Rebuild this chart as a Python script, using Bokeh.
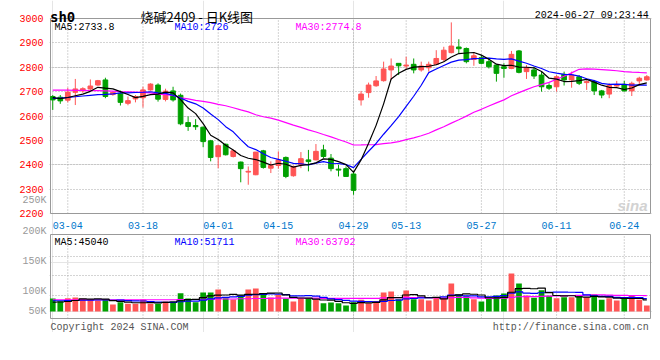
from bokeh.plotting import figure
from bokeh.models import Range1d, FixedTicker, Grid, LinearAxis, ColumnDataSource
from bokeh.core.properties import value
from bokeh.embed import file_html
from bokeh.resources import INLINE

# ---------------- data ----------------
dates = ["02-29", "03-01",
         "03-04", "03-05", "03-06", "03-07", "03-08",
         "03-11", "03-12", "03-13", "03-14", "03-15",
         "03-18", "03-19", "03-20", "03-21", "03-22",
         "03-25", "03-26", "03-27", "03-28", "03-29",
         "04-01", "04-02", "04-03",
         "04-08", "04-09", "04-10", "04-11", "04-12",
         "04-15", "04-16", "04-17", "04-18", "04-19",
         "04-22", "04-23", "04-24", "04-25", "04-26",
         "04-29", "04-30",
         "05-06", "05-07", "05-08", "05-09", "05-10",
         "05-13", "05-14", "05-15", "05-16", "05-17",
         "05-20", "05-21", "05-22", "05-23", "05-24",
         "05-27", "05-28", "05-29", "05-30", "05-31",
         "06-03", "06-04", "06-05", "06-06", "06-07",
         "06-11", "06-12", "06-13", "06-14",
         "06-17", "06-18", "06-19", "06-20", "06-21",
         "06-24", "06-25", "06-26", "06-27"]

opens = [2680, 2677, 2665, 2697, 2703, 2711, 2727, 2748, 2688, 2693,
         2652, 2670, 2675, 2707, 2727, 2668, 2703, 2685, 2573, 2561,
         2554, 2498, 2433, 2484, 2434, 2411, 2370, 2359, 2457, 2386,
         2397, 2430, 2355, 2400, 2420, 2420, 2461, 2427, 2382, 2384,
         2362, 2666, 2696, 2724, 2745, 2789, 2816, 2805, 2812, 2789,
         2798, 2812, 2832, 2860, 2883, 2877, 2832, 2839, 2823, 2809,
         2802, 2795, 2867, 2782, 2789, 2768, 2725, 2720, 2771, 2748,
         2761, 2737, 2741, 2703, 2690, 2723, 2730, 2703, 2744, 2748]
highs = [2686, 2686, 2716, 2752, 2718, 2750, 2748, 2757, 2700, 2704,
         2680, 2686, 2720, 2734, 2734, 2712, 2720, 2692, 2598, 2587,
         2557, 2502, 2482, 2487, 2462, 2413, 2393, 2452, 2461, 2414,
         2455, 2434, 2397, 2452, 2461, 2485, 2482, 2444, 2400, 2393,
         2375, 2703, 2737, 2764, 2823, 2836, 2816, 2843, 2836, 2823,
         2823, 2870, 2884, 2984, 2915, 2881, 2861, 2850, 2839, 2812,
         2816, 2867, 2871, 2809, 2802, 2782, 2734, 2768, 2782, 2782,
         2768, 2746, 2748, 2707, 2734, 2744, 2744, 2741, 2761, 2768]
lows = [2625, 2650, 2656, 2645, 2695, 2707, 2724, 2673, 2683, 2643,
        2644, 2656, 2635, 2704, 2659, 2660, 2659, 2562, 2539, 2543,
        2472, 2414, 2386, 2438, 2430, 2328, 2318, 2357, 2384, 2366,
        2384, 2345, 2351, 2386, 2373, 2418, 2427, 2373, 2352, 2352,
        2277, 2643, 2675, 2720, 2741, 2748, 2768, 2789, 2775, 2782,
        2782, 2809, 2823, 2857, 2857, 2816, 2806, 2812, 2795, 2741,
        2757, 2792, 2775, 2752, 2752, 2700, 2707, 2700, 2725, 2716,
        2727, 2707, 2686, 2673, 2673, 2720, 2700, 2682, 2727, 2745]
closes = [2666, 2662, 2698, 2711, 2712, 2723, 2745, 2680, 2697, 2656,
          2663, 2680, 2707, 2731, 2669, 2702, 2666, 2568, 2557, 2556,
          2495, 2430, 2478, 2441, 2457, 2384, 2373, 2452, 2389, 2397,
          2420, 2352, 2393, 2425, 2413, 2455, 2434, 2384, 2378, 2352,
          2295, 2690, 2727, 2744, 2793, 2805, 2806, 2809, 2789, 2805,
          2812, 2836, 2870, 2887, 2876, 2823, 2847, 2816, 2802, 2775,
          2795, 2853, 2779, 2798, 2764, 2720, 2714, 2761, 2748, 2768,
          2734, 2741, 2703, 2686, 2725, 2727, 2703, 2734, 2755, 2761]
volumes = [52000, 41000, 53000, 56000, 51000, 47000, 44000, 48000, 28000, 37000,
           31000, 31000, 48000, 31000, 31000, 40000, 40000, 73000, 52000, 37000,
           76000, 76000, 88000, 53000, 48000, 64000, 88000, 92000, 67000, 56000,
           67000, 52000, 40000, 55000, 53000, 49000, 33000, 36000, 33000, 24000,
           37000, 47000, 33000, 41000, 76000, 80000, 49000, 84000, 49000, 49000,
           44000, 55000, 55000, 112000, 68000, 61000, 49000, 40000, 57000, 64000,
           72000, 152000, 112000, 64000, 55000, 85000, 63000, 53000, 57000, 57000,
           64000, 57000, 68000, 47000, 53000, 44000, 52000, 64000, 47000, 24000]

# moving-average values at the left edge
ma5_head = [2675, 2671, 2676, 2683]
ma10_head = [2672, 2673, 2676, 2679, 2682, 2685, 2688, 2689, 2691]
ma30_head = [2706, 2706, 2706, 2705, 2705, 2704, 2704, 2703, 2702, 2700,
             2699, 2698, 2697, 2695, 2690, 2688, 2684, 2675, 2670, 2664,
             2660, 2655, 2648, 2642, 2634, 2625, 2617, 2605, 2597]
vma5_head = [37000, 38000, 40000, 44000]
vma10_head = [43000, 43000, 44000, 44000, 45000, 45000, 46000, 46000, 45000]
vma30_head = [47000, 47000, 47000, 47000, 47000, 47000, 47000, 47000, 47000, 47000,
              47000, 47000, 47000, 47000, 47000, 47000, 47000, 48000, 48000, 48000,
              49000, 49000, 50000, 50000, 50000, 51000, 51000, 52000, 52000]

tick_dates = ["03-04", "03-18", "04-01", "04-15", "04-29", "05-13", "05-27", "06-11", "06-24"]
price_ticks = [2200, 2300, 2400, 2500, 2600, 2700, 2800, 2900, 3000]
price_grid = [2300, 2400, 2500, 2600, 2700, 2800, 2900]
# Sina's volume-scale labels and where they sit on the volume scale
vol_labels = ["50K", "100K", "150K", "200K", "250K"]
vol_label_pos = [0, 81200, 201200, 321200, 444000]
vol_grid = [64000, 142800, 221200]

title_text = "烧碱2409 - 日K线图"
code_text = "sh0"
time_text = "2024-06-27 09:23:44"
ma_texts = ["MA5:2733.8", "MA10:2726", "MA30:2774.8"]
vma_texts = ["MA5:45040", "MA10:51711", "MA30:63792"]
foot_left = "Copyright 2024 SINA.COM"
foot_right = "http://finance.sina.com.cn"
mark_text = "sina"


def moving_avg(vals, n, head):
    out = []
    for i in range(len(vals)):
        if i >= n - 1:
            out.append(sum(vals[i - n + 1:i + 1]) / n)
        else:
            out.append(head[i])
    return out


# ---------------- styling / geometry ----------------
RED = "#ff5555"
GREEN = "#00a000"
GRID = "#a8a8a8"
FRAME = "#999999"
MONO = "Liberation Mono"

W, H = 652, 332
x_lo, x_hi = -0.3, 79.49            # panel box edges in bar units
px_x = (x_hi - x_lo) / 600.0         # one pixel in bar units
p_lo, p_hi = 2200, 3000              # price panel
py = (p_hi - p_lo) / 195.0           # one pixel in price units
price_top_px, price_bot_px = 18, 213
y_top = p_hi + price_top_px * py
y_bot = p_lo - (H - price_bot_px) * py
vpx = 4000.0                          # one pixel in volume units
vol_zero_px = 311
v_top = vol_zero_px * vpx
v_bot = -(H - vol_zero_px) * vpx
vbox_top = (vol_zero_px - 234) * vpx
vbox_bot = -(318 - vol_zero_px) * vpx

idx = list(range(len(dates)))
colors = [RED if c >= o else GREEN for o, c in zip(opens, closes)]
src = ColumnDataSource(dict(
    x=idx, h=highs, l=lows,
    top=[max(o, c) for o, c in zip(opens, closes)],
    bot=[min(o, c) for o, c in zip(opens, closes)],
    color=colors, vol=volumes,
    ma5=moving_avg(closes, 5, ma5_head),
    ma10=moving_avg(closes, 10, ma10_head),
    ma30=moving_avg(closes, 30, ma30_head),
    vma5=moving_avg(volumes, 5, vma5_head),
    vma10=moving_avg(volumes, 10, vma10_head),
    vma30=moving_avg(volumes, 30, vma30_head),
))
tick_idx = [dates.index(d) for d in tick_dates]

p = figure(width=W, height=H,
           x_range=Range1d(x_lo - px_x, x_hi + 2 * px_x),
           y_range=Range1d(y_bot, y_top),
           x_axis_location=None, y_axis_location=None,
           output_backend="svg", toolbar_location=None,
           min_border_left=49, min_border_right=0, min_border_top=0, min_border_bottom=0,
           outline_line_color=None, background_fill_color="white", border_fill_color="white")
p.extra_y_ranges = {"vol": Range1d(v_bot, v_top)}

# axes: gray volume labels next to the frame, red price labels drawn over the same strip
ax_v = LinearAxis(y_range_name="vol", ticker=FixedTicker(ticks=vol_label_pos),
                  major_label_overrides=dict(zip(vol_label_pos, vol_labels)))
ax_p = LinearAxis(ticker=FixedTicker(ticks=price_ticks))
for ax, col, so in ((ax_v, "#999999", 3), (ax_p, "#ff0000", -24)):
    ax.major_label_text_color = col
    ax.major_label_text_font = MONO
    ax.major_label_text_font_size = "10px"
    ax.major_tick_line_color = None
    ax.minor_tick_line_color = None
    ax.major_tick_out = 0
    ax.major_tick_in = 0
    ax.minor_tick_out = 0
    ax.axis_line_color = None
    ax.major_label_standoff = so
p.add_layout(ax_v, "left")
p.add_layout(ax_p, "left")

# grids
p.add_layout(Grid(dimension=1, ticker=FixedTicker(ticks=price_grid),
                  grid_line_color=GRID, grid_line_dash="1 2"))
p.add_layout(Grid(dimension=1, y_range_name="vol", ticker=FixedTicker(ticks=vol_grid),
                  grid_line_color=GRID, grid_line_dash="1 2"))
p.segment(x0=tick_idx, y0=[p_lo] * len(tick_idx), x1=tick_idx, y1=[p_hi] * len(tick_idx),
          line_color=GRID, line_dash="1 2", line_width=1)
p.segment(x0=tick_idx, y0=[vbox_bot] * len(tick_idx), x1=tick_idx, y1=[vbox_top] * len(tick_idx),
          line_color=GRID, line_dash="1 2", line_width=1, y_range_name="vol")

# panel boxes
p.quad(left=x_lo, right=x_hi, bottom=p_lo, top=p_hi, fill_color=None,
       line_color=FRAME, line_width=1)
p.quad(left=x_lo, right=x_hi, bottom=vbox_bot, top=vbox_top, fill_color=None,
       line_color=FRAME, line_width=1, y_range_name="vol")


def add_text(xs, ys, texts, colors_, size, align="left", font=MONO, style="normal", rng="default"):
    s = ColumnDataSource(dict(x=xs, y=ys, t=texts, c=colors_))
    p.text(x="x", y="y", text="t", text_color="c", source=s, text_font=value(font),
           text_font_size=value(size), text_align=align, text_baseline="alphabetic",
           text_font_style=style, y_range_name=rng)


# watermark (behind the candles)
add_text([x_hi - 33 * px_x], [p_lo + 8 * py], [mark_text], ["#d2d2d2"], "15px",
         font="Liberation Sans", style="bold italic")

# candles
p.segment(x0="x", y0="l", x1="x", y1="h", line_color="color", line_width=1, source=src)
p.vbar(x="x", top="top", bottom="bot", width=0.62, fill_color="color",
       line_color="color", line_width=1, source=src)
p.line("x", "ma30", line_color="#ff00ff", line_width=1.2, source=src)
p.line("x", "ma10", line_color="#0000ff", line_width=1.2, source=src)
p.line("x", "ma5", line_color="#000000", line_width=1.2, source=src)

# volume
p.vbar(x="x", top="vol", bottom=0, width=0.76, fill_color="color", line_color=None,
       source=src, y_range_name="vol")
p.step("x", "vma30", mode="center", line_color="#ff00ff", line_width=1.2, source=src, y_range_name="vol")
p.step("x", "vma10", mode="center", line_color="#0000ff", line_width=1.2, source=src, y_range_name="vol")
p.step("x", "vma5", mode="center", line_color="#000000", line_width=1.2, source=src, y_range_name="vol")

# header
add_text([x_lo - px_x * 0.5], [p_hi + 2 * py], [code_text], ["#000000"], "14px",
         font="DejaVu Sans Mono", style="bold")
add_text([x_lo + 90 * px_x], [p_hi + 2 * py], [title_text], ["#000000"], "13px",
         font="Noto Sans CJK SC")
add_text([x_hi - 1.7 * px_x], [p_hi + 3 * py], [time_text], ["#000000"], "10px", align="right")
# price legend
add_text([x_lo + 4 * px_x, x_lo + 124 * px_x, x_lo + 245 * px_x], [p_hi - 9.3 * py] * 3,
         ma_texts, ["#000000", "#0000ff", "#ff00ff"], "10px")
# date labels
add_text(tick_idx, [p_lo - 12 * py] * len(tick_idx), [dates[i] for i in tick_idx],
         ["#0077cc"] * len(tick_idx), "10px", align="center")
# volume legend
add_text([x_lo + 4 * px_x, x_lo + 124 * px_x, x_lo + 245 * px_x], [vbox_top - 7.7 * vpx] * 3,
         vma_texts, ["#000000", "#0000ff", "#ff00ff"], "10px", rng="vol")
# footer
add_text([x_lo], [vbox_bot - 8.5 * vpx], [foot_left], ["#555555"], "10px", rng="vol")
add_text([x_hi - 1.7 * px_x], [vbox_bot - 8.5 * vpx], [foot_right], ["#555555"], "10px",
         align="right", rng="vol")

open("out.html", "w").write(file_html(p, INLINE))
